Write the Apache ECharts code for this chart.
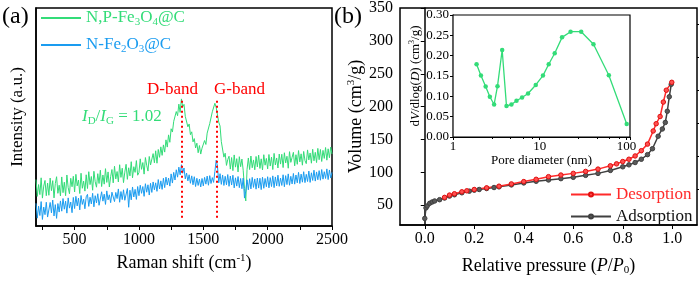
<!DOCTYPE html>
<html>
<head>
<meta charset="utf-8">
<script src="https://cdn.jsdelivr.net/npm/echarts@6/dist/echarts.min.js"></script>
<style>
  html, body { margin: 0; padding: 0; background: #fff; }
  #chart { width: 700px; height: 281px; }
</style>
</head>
<body>
<div id="chart"></div>
<script>
// ---- (a) Raman spectra, sampled every 10 cm-1 from 200 to 2500 ----
var shiftStart = 200;
var shiftStep = 10;
var greenIntensity = [
  21.3, 13.6, 19.0, 14.4, 22.1, 12.8, 18.3, 20.9, 13.9, 19.7,
  14.1, 22.0, 16.2, 20.8, 12.9, 19.5, 22.6, 15.0, 18.7, 13.8,
  22.5, 15.3, 20.1, 13.9, 23.4, 17.6, 14.8, 21.9, 18.0, 22.8,
  15.6, 23.7, 18.4, 21.1, 14.9, 24.2, 17.3, 20.6, 16.0, 23.5,
  17.2, 24.9, 19.0, 22.7, 16.4, 25.1, 20.3, 17.8, 24.0, 19.5,
  25.6, 18.1, 23.4, 19.2, 26.3, 20.0, 24.8, 17.9, 22.6, 25.9,
  19.8, 27.4, 21.6, 25.0, 20.2, 28.1, 22.3, 26.5, 19.9, 24.7,
  28.3, 21.4, 26.7, 23.0, 29.5, 22.1, 27.2, 24.6, 30.0, 23.3,
  24.5, 30.8, 26.0, 29.1, 23.8, 31.4, 27.9, 25.2, 31.9, 28.0,
  27.6, 33.2, 29.0, 34.5, 28.8, 35.1, 31.5, 36.3, 32.4, 37.2,
  33.9, 39.5, 36.2, 41.8, 38.4, 44.6, 43.1, 48.0, 47.2, 52.5,
  50.6, 55.9, 52.1, 58.3, 54.7, 55.8, 50.3, 50.9, 45.5, 46.8,
  41.9, 43.2, 38.6, 40.1, 35.8, 38.0, 33.6, 36.9, 33.0, 35.7,
  34.8, 39.2, 37.4, 42.6, 41.8, 47.0, 46.9, 52.4, 51.6, 56.3,
  54.4, 55.2, 47.6, 45.9, 38.7, 37.8, 31.6, 33.4, 27.8, 30.5,
  32.0, 26.1, 31.4, 25.4, 32.6, 27.0, 30.9, 24.8, 31.8, 27.2,
  30.7, 25.6, 17.2, 11.5, 26.0, 31.2, 25.9, 32.1, 26.7, 30.3,
  25.8, 31.9, 27.1, 32.5, 26.4, 30.8, 25.7, 32.7, 27.9, 31.0,
  26.2, 32.8, 27.5, 31.6, 25.9, 33.3, 28.0, 31.2, 26.6, 33.0,
  28.4, 32.9, 26.8, 33.6, 28.9, 32.0, 26.5, 34.1, 29.2, 31.5,
  33.8, 27.6, 32.7, 28.3, 34.6, 29.4, 33.1, 27.9, 34.2, 30.0,
  28.6, 34.9, 30.3, 33.5, 28.8, 35.2, 29.9, 33.8, 29.1, 35.6,
  30.4, 35.1, 29.6, 34.7, 31.0, 36.0, 30.2, 35.4, 31.3, 36.2,
  33.0
];
var blueIntensity = [
  10.4, 3.6, 9.1, 4.8, 11.2, 3.0, 8.7, 5.2, 10.9, 4.1,
  3.9, 10.8, 6.0, 11.9, 4.6, 9.8, 3.5, 10.3, 6.4, 11.5,
  6.8, 12.6, 7.7, 11.4, 5.9, 12.9, 8.2, 11.0, 6.1, 13.1,
  8.0, 13.6, 9.2, 12.8, 7.4, 14.0, 9.9, 12.3, 7.9, 13.4,
  14.5, 9.0, 13.2, 10.1, 15.0, 8.8, 13.9, 10.6, 14.8, 9.5,
  10.2, 15.7, 11.4, 14.6, 9.9, 16.1, 12.0, 14.3, 10.7, 15.5,
  16.3, 11.2, 15.4, 12.6, 17.0, 10.9, 15.8, 12.1, 16.6, 11.8,
  12.5, 17.2, 8.6, 16.4, 12.0, 17.9, 13.3, 16.8, 12.2, 18.1,
  13.9, 18.7, 15.0, 18.1, 13.6, 19.4, 15.5, 18.9, 14.2, 19.6,
  15.4, 20.2, 16.6, 19.8, 15.9, 21.3, 17.0, 20.7, 16.8, 21.9,
  17.6, 22.4, 18.8, 22.0, 18.3, 23.9, 19.7, 24.6, 21.1, 25.8,
  22.4, 27.0, 23.5, 28.1, 24.2, 26.6, 21.6, 24.3, 20.7, 23.5,
  19.6, 23.0, 18.9, 22.6, 18.1, 21.9, 18.6, 21.5, 17.9, 21.8,
  18.4, 22.3, 19.2, 22.9, 18.7, 23.1, 19.5, 22.2, 20.0, 25.0,
  30.2, 27.5, 19.8, 24.0, 19.1, 23.4, 18.6, 22.8, 18.9, 23.6,
  18.2, 22.9, 18.8, 23.3, 17.5, 22.1, 18.3, 22.7, 17.6, 21.8,
  17.1, 22.0, 12.8, 16.0, 21.2, 16.6, 21.7, 17.0, 22.3, 17.7,
  21.6, 16.9, 22.0, 17.4, 21.9, 16.7, 22.4, 17.3, 21.8, 18.0,
  22.6, 17.5, 22.2, 18.1, 23.0, 17.6, 22.5, 18.4, 23.3, 18.2,
  22.0, 18.6, 23.5, 18.0, 23.1, 19.0, 23.9, 18.7, 22.8, 19.3,
  24.1, 19.2, 23.4, 19.8, 24.6, 19.5, 23.8, 20.1, 24.9, 19.9,
  23.7, 20.4, 25.2, 20.0, 24.4, 20.9, 25.6, 20.6, 24.8, 21.2,
  25.4, 21.0, 25.9, 21.5, 24.9, 21.8, 26.2, 21.3, 25.7, 22.0,
  24.6
];
var bandShift = [1335, 1605];
var bandTop = 57.5;
var bandBottom = 3;
var ramanTicks = [250, 500, 750, 1000, 1250, 1500, 1750, 2000, 2250, 2500];
var ramanLabels = [500, 1000, 1500, 2000, 2500];

// ---- (b) N2 isotherm ----
var adsP = [0.0, 0.005, 0.01, 0.02, 0.03, 0.04, 0.06, 0.08, 0.1, 0.12, 0.15, 0.18, 0.2, 0.22, 0.25, 0.28, 0.3, 0.35, 0.4, 0.45, 0.5, 0.55, 0.6, 0.65, 0.7, 0.75, 0.8, 0.825, 0.85, 0.875, 0.9, 0.92, 0.943, 0.96, 0.972, 0.98, 0.988, 0.996];
var adsV = [30, 46, 49, 53, 55, 56.5, 58.5, 61, 64, 66, 69, 71.5, 73, 74, 75.5, 77, 78, 81, 84, 86.5, 88.5, 90.5, 92.5, 95.5, 98.5, 103, 108.5, 111.5, 115, 120, 127, 136, 155, 166, 176, 193, 215, 234];
var desP = [0.998, 0.976, 0.964, 0.951, 0.935, 0.923, 0.9, 0.875, 0.85, 0.825, 0.8, 0.775, 0.75, 0.7, 0.65, 0.6, 0.55, 0.5, 0.45, 0.4, 0.35, 0.3, 0.25, 0.2, 0.17, 0.15, 0.12, 0.1, 0.08];
var desV = [237, 225, 207, 185, 174, 163, 143, 133, 125, 120, 116.5, 113, 110, 105, 101.5, 98.5, 96, 93.5, 89.5, 86, 82.5, 79, 76.5, 74, 72, 70.5, 67.5, 65.5, 62];
var pressureLabels = [0, 0.2, 0.4, 0.6, 0.8, 1.0];
var volumeLabels = [50, 100, 150, 200, 250, 300, 350];
var volumeMinor = [75, 125, 175, 225, 275, 325];

// ---- (b) inset pore size distribution ----
var poreD = [1.87, 2.10, 2.38, 2.66, 2.98, 3.26, 3.69, 4.14, 4.72, 5.40, 6.26, 7.34, 9.0, 10.9, 12.7, 14.9, 18.1, 22.7, 30.1, 41.7, 62.7, 100.8];
var poreV = [0.179, 0.151, 0.124, 0.099, 0.080, 0.125, 0.214, 0.076, 0.080, 0.089, 0.097, 0.107, 0.128, 0.151, 0.179, 0.206, 0.245, 0.259, 0.259, 0.228, 0.152, 0.032];

var GREEN = '#33dc78';
var BLUE = '#1a9cf0';
var RED = '#ff2a2a';
var GRAY = '#404040';
var FONT = '"Liberation Serif", "Times New Roman", Times, serif';

function pairs(xs, ys) {
  return ys.map(function (y, i) { return [xs[i], y]; });
}
function spectrum(vals) {
  return vals.map(function (v, i) { return [shiftStart + i * shiftStep, v]; });
}
function font(size, italic) {
  return (italic ? 'italic ' : '') + size + 'px ' + FONT;
}

var txt = { fontFamily: FONT, fontSize: 18, color: '#000' };
var sup = { fontFamily: FONT, fontSize: 11, color: '#000', verticalAlign: 'top', lineHeight: 20, padding: [0, 0, 8, 0] };
var sub = { fontFamily: FONT, fontSize: 11, color: '#000', verticalAlign: 'bottom', lineHeight: 20, padding: [8, 0, 0, 0] };
var ital = { fontFamily: FONT, fontSize: 18, color: '#000', fontStyle: 'italic' };

var myChart = echarts.init(document.getElementById('chart'), null, { renderer: 'canvas' });

var option = {
  animation: false,
  backgroundColor: '#fff',
  textStyle: { fontFamily: FONT },
  grid: [
    { left: 36, top: 8, width: 296, height: 218, show: true, borderColor: '#000', borderWidth: 1.5 },
    { left: 400, top: 7, width: 297, height: 220, show: true, borderColor: '#000', borderWidth: 1.5 },
    { left: 453, top: 15, width: 177, height: 122, show: true, borderColor: '#000', borderWidth: 1.2, backgroundColor: '#fff', z: 5 }
  ],
  legend: [
    {
      left: 36, top: 4, orient: 'vertical', itemWidth: 40, itemHeight: 2, itemGap: 8,
      selectedMode: false, icon: 'rect',
      data: ['N,P-Fe3O4@C', 'N-Fe2O3@C'],
      formatter: function (name) {
        if (name === 'N,P-Fe3O4@C') return '{g|N,P-Fe}{gs|3}{g|O}{gs|4}{g|@C}';
        return '{b|N-Fe}{bs|2}{b|O}{bs|3}{b|@C}';
      },
      textStyle: {
        rich: {
          g: { fontFamily: FONT, fontSize: 17, color: GREEN, lineHeight: 20 },
          gs: { fontFamily: FONT, fontSize: 11, color: GREEN, verticalAlign: 'bottom', lineHeight: 20, padding: [8, 0, 0, 0] },
          b: { fontFamily: FONT, fontSize: 17, color: BLUE, lineHeight: 20 },
          bs: { fontFamily: FONT, fontSize: 11, color: BLUE, verticalAlign: 'bottom', lineHeight: 20, padding: [8, 0, 0, 0] }
        }
      }
    },
    {
      left: 565, top: 181, orient: 'vertical', itemWidth: 40, itemHeight: 5, itemGap: 5,
      selectedMode: false,
      data: [
        { name: 'Desorption', textStyle: { color: RED } },
        { name: 'Adsorption', textStyle: { color: '#111' } }
      ],
      textStyle: { fontFamily: FONT, fontSize: 17 }
    }
  ],
  xAxis: [
    {
      gridIndex: 0, type: 'value', min: 200, max: 2500,
      splitLine: { show: false },
      axisLine: { lineStyle: { color: '#000', width: 1.5 } },
      axisTick: { customValues: ramanTicks, length: 4, lineStyle: { color: '#000' } },
      axisLabel: {
        customValues: ramanLabels, fontFamily: FONT, fontSize: 16, color: '#000', margin: 6,
        formatter: function (v) { return String(v); }
      },
      name: '{t|Raman shift (cm}{sup|-1}{t|)}',
      nameLocation: 'middle', nameGap: 27,
      nameTextStyle: { rich: { t: txt, sup: sup } }
    },
    {
      gridIndex: 1, type: 'value', min: -0.1, max: 1.1,
      splitLine: { show: false },
      axisLine: { lineStyle: { color: '#000', width: 1.5 } },
      axisTick: { customValues: pressureLabels, length: 4, lineStyle: { color: '#000' } },
      axisLabel: {
        customValues: pressureLabels, fontFamily: FONT, fontSize: 16, color: '#000', margin: 6,
        formatter: function (v) { return v.toFixed(1); }
      },
      name: '{t|Relative pressure }{t|(}{it|P}{t|/}{it|P}{sub|0}{t|)}',
      nameLocation: 'middle', nameGap: 31,
      nameTextStyle: { rich: { t: txt, it: ital, sub: sub } }
    },
    {
      gridIndex: 2, type: 'log', logBase: 10, min: 1, max: 110,
      splitLine: { show: false },
      axisLine: { lineStyle: { color: '#000', width: 1.2 } },
      axisTick: { length: 3, lineStyle: { color: '#000' } },
      minorTick: { show: true, length: 2, lineStyle: { color: '#000' } },
      axisLabel: { fontFamily: FONT, fontSize: 13, color: '#000', margin: 3, showMaxLabel: false },
      name: 'Pore diameter (nm)',
      nameLocation: 'middle', nameGap: 15,
      nameTextStyle: { fontFamily: FONT, fontSize: 13, color: '#000' }
    }
  ],
  yAxis: [
    {
      gridIndex: 0, type: 'value', min: 0, max: 100,
      splitLine: { show: false },
      axisLine: { show: true, lineStyle: { color: '#000', width: 1.5 } },
      axisTick: { show: false },
      axisLabel: { show: false },
      name: 'Intensity (a.u.)',
      nameLocation: 'middle', nameGap: 10,
      nameTextStyle: { fontFamily: FONT, fontSize: 17, color: '#000' }
    },
    {
      gridIndex: 1, type: 'value', min: 20, max: 350,
      splitLine: { show: false },
      axisLine: { show: true, lineStyle: { color: '#000', width: 1.5 } },
      axisTick: { customValues: volumeLabels, length: 4, lineStyle: { color: '#000' } },
      axisLabel: { customValues: volumeLabels, fontFamily: FONT, fontSize: 16, color: '#000', margin: 7 },
      name: '{t|Volume (cm}{sup|3}{t|/g)}',
      nameLocation: 'middle', nameGap: 34,
      nameTextStyle: { rich: { t: txt, sup: sup } }
    },
    {
      gridIndex: 1, type: 'value', min: 20, max: 350,
      splitLine: { show: false },
      axisLine: { show: false },
      axisTick: { customValues: volumeMinor, length: 2, lineStyle: { color: '#000' } },
      axisLabel: { show: false }
    },
    {
      gridIndex: 2, type: 'value', min: 0, max: 0.3, interval: 0.05,
      splitLine: { show: false },
      axisLine: { show: true, lineStyle: { color: '#000', width: 1.2 } },
      axisTick: { length: 3, lineStyle: { color: '#000' } },
      axisLabel: {
        fontFamily: FONT, fontSize: 13, color: '#000', margin: 4,
        formatter: function (v) { return v.toFixed(2); }
      },
      name: '{t|d}{it|V}{t|/dlog(}{it|D}{t|) (cm}{sup|3}{t|/g)}',
      nameLocation: 'middle', nameGap: 30,
      nameTextStyle: {
        rich: {
          t: { fontFamily: FONT, fontSize: 13, color: '#000' },
          it: { fontFamily: FONT, fontSize: 13, color: '#000', fontStyle: 'italic' },
          sup: { fontFamily: FONT, fontSize: 8, color: '#000', verticalAlign: 'top', lineHeight: 14, padding: [0, 0, 6, 0] }
        }
      }
    }
  ],
  series: [
    {
      name: 'N,P-Fe3O4@C', type: 'line', xAxisIndex: 0, yAxisIndex: 0,
      data: spectrum(greenIntensity), symbol: 'none', color: GREEN,
      lineStyle: { width: 1, color: GREEN },
      markLine: {
        silent: true, symbol: 'none', label: { show: false },
        lineStyle: { color: '#ff0000', type: [2, 3], width: 2 },
        data: bandShift.map(function (s) { return [{ coord: [s, bandTop] }, { coord: [s, bandBottom] }]; })
      }
    },
    {
      name: 'N-Fe2O3@C', type: 'line', xAxisIndex: 0, yAxisIndex: 0,
      data: spectrum(blueIntensity), symbol: 'none', color: BLUE,
      lineStyle: { width: 1, color: BLUE }
    },
    {
      name: 'Adsorption', type: 'line', xAxisIndex: 1, yAxisIndex: 1,
      data: pairs(adsP, adsV), symbol: 'circle', symbolSize: 4.5, color: GRAY,
      lineStyle: { width: 1.5, color: GRAY },
      itemStyle: { color: '#5a5a5a', borderColor: GRAY, borderWidth: 1 }
    },
    {
      name: 'Desorption', type: 'line', xAxisIndex: 1, yAxisIndex: 1,
      data: pairs(desP, desV), symbol: 'circle', symbolSize: 4.5, color: RED,
      lineStyle: { width: 1.5, color: RED },
      itemStyle: { color: '#ff5050', borderColor: '#e01010', borderWidth: 1 }
    },
    {
      name: 'PSD', type: 'line', xAxisIndex: 2, yAxisIndex: 3, z: 6,
      data: pairs(poreD, poreV), symbol: 'circle', symbolSize: 4.5, color: GREEN,
      lineStyle: { width: 1.3, color: GREEN },
      itemStyle: { color: GREEN }
    }
  ],
  graphic: [
    { type: 'text', left: 2, top: 5, style: { text: '(a)', font: font(24), fill: '#000' } },
    { type: 'text', left: 334, top: 5, style: { text: '(b)', font: font(24), fill: '#000' } },
    { type: 'text', left: 147, top: 81, style: { text: 'D-band', font: font(17), fill: '#ff0000' } },
    { type: 'text', left: 214, top: 81, style: { text: 'G-band', font: font(17), fill: '#ff0000' } },
    {
      type: 'text', left: 82, top: 108,
      style: {
        text: '{i|I}{s|D}{n|/}{i|I}{s|G}{n| = 1.02}',
        rich: {
          i: { font: font(17, true), fill: GREEN, lineHeight: 20 },
          n: { font: font(17), fill: GREEN, lineHeight: 20 },
          s: { font: font(11), fill: GREEN, verticalAlign: 'bottom', lineHeight: 20, padding: [8, 0, 0, 0] }
        }
      }
    }
  ]
};

myChart.setOption(option);
</script>
</body>
</html>
